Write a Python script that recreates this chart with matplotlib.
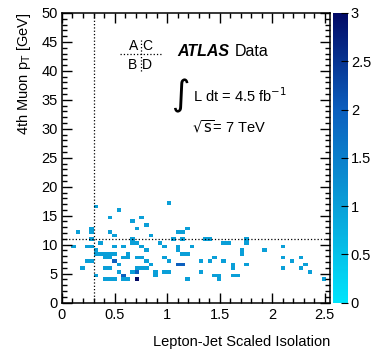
import numpy as np
import matplotlib
matplotlib.use('Agg')
import matplotlib.pyplot as plt
from matplotlib.colors import LinearSegmentedColormap
from matplotlib.ticker import MultipleLocator, FormatStrFormatter

plt.rcParams['font.family'] = ['Liberation Sans', 'DejaVu Sans']

# Histogram binning (60 x 80 bins)
x_edges = np.linspace(0, 2.6, 61)
y_edges = np.linspace(0, 50, 81)

# Filled cells: isolation, 4th muon pT [GeV], entries
iso = [0.325, 0.542, 0.455, 0.152, 0.282, 0.282, 0.455, 0.498, 0.282, 0.368,
       0.108, 0.238, 0.282, 0.498, 0.325, 0.325, 0.368, 0.412, 0.455, 0.498,
       0.412, 0.455, 0.498, 0.238, 0.282, 0.542, 0.195, 0.412, 0.455, 0.542,
       0.325, 0.412, 0.455, 0.498,
       1.018, 0.672, 0.758, 0.802, 0.715, 1.105, 1.148, 1.192, 0.845, 0.672,
       0.672, 0.715, 1.062, 1.148, 0.932, 0.585, 0.758, 0.975, 1.105, 1.105,
       0.802, 0.628, 1.148, 1.192, 0.585, 0.628, 0.715, 0.758, 0.975, 0.802,
       1.018, 0.845, 1.105, 1.148, 0.715, 0.758, 0.802, 0.672, 0.715, 0.888,
       0.975, 1.018, 0.585, 0.888, 0.585, 0.628, 0.715, 1.192,
       1.235, 1.365, 1.408, 1.755, 1.755, 1.538, 1.582, 1.712, 1.712, 1.322,
       1.408, 1.452, 1.538, 1.625, 1.625, 1.755, 1.322, 1.452, 1.495, 1.495,
       1.625, 1.668,
       1.928, 2.102, 2.102, 2.275, 2.188, 2.318, 2.102, 2.275, 2.362, 2.492]
pt = [16.56, 15.94, 14.69, 12.19, 12.81, 12.19, 12.19, 11.56, 10.94, 10.31,
      9.69, 9.69, 9.69, 9.69, 9.06, 8.44, 8.44, 8.44, 8.44, 8.44,
      7.81, 7.81, 7.19, 7.19, 7.19, 6.56, 5.94, 5.94, 5.94, 5.31,
      4.69, 4.06, 4.06, 4.06,
      17.19, 14.06, 14.69, 13.44, 12.81, 12.19, 12.19, 12.81, 11.56, 10.94,
      10.31, 10.31, 10.94, 10.94, 10.31, 9.69, 9.69, 9.69, 9.69, 9.06,
      9.06, 8.44, 8.44, 8.44, 7.81, 7.81, 7.81, 7.81, 7.81, 7.19,
      7.19, 6.56, 6.56, 6.56, 5.94, 5.94, 5.94, 5.31, 5.31, 5.31,
      5.31, 5.31, 4.69, 4.69, 4.06, 4.06, 4.06, 4.06,
      9.69, 10.94, 10.94, 10.94, 10.31, 10.31, 10.31, 9.06, 8.44, 7.19,
      7.19, 7.81, 7.19, 6.56, 5.94, 6.56, 5.31, 4.69, 4.69, 4.06,
      4.69, 4.69,
      9.06, 9.69, 7.81, 7.81, 7.19, 6.56, 5.94, 5.94, 5.31, 4.06]
entries = [1, 1, 1, 1, 1, 1, 1, 1, 1, 1,
           1, 1, 1, 1, 1, 1, 1, 1, 1, 1,
           1, 1, 2, 1, 1, 1, 1, 1, 1, 1,
           1, 1, 1, 1,
           1, 1, 1, 1, 1, 1, 1, 1, 1, 1,
           1, 1, 1, 1, 1, 1, 1, 1, 1, 1,
           1, 1, 1, 1, 1, 1, 1, 1, 1, 1,
           1, 1, 2, 2, 1, 1, 1, 1, 2, 1,
           1, 1, 2, 1, 1, 1, 3, 1,
           1, 1, 1, 1, 1, 1, 1, 1, 1, 1,
           1, 1, 1, 1, 1, 1, 1, 1, 1, 1,
           1, 1,
           1, 1, 1, 1, 1, 1, 1, 1, 1, 1]

cmap = LinearSegmentedColormap.from_list(
    'root', [(0.0, '#00e4fb'), (1/3, '#0a9fd8'), (2/3, '#0c5fbe'), (1.0, '#020a66')])

fig = plt.figure(figsize=(3.75, 3.51), dpi=100)
ax = fig.add_axes([0.1653, 0.138, 0.7147, 0.825])
h = ax.hist2d(iso, pt, bins=[x_edges, y_edges], weights=entries,
              cmap=cmap, vmin=0, vmax=3, cmin=0.5)

ax.set_xlim(0, 2.55)
ax.set_ylim(0, 50)

# region boundaries
ax.axvline(0.3, color='k', ls=':', lw=0.9)
ax.axhline(11, color='k', ls=':', lw=0.9)

ax.xaxis.set_major_locator(MultipleLocator(0.5))
ax.xaxis.set_minor_locator(MultipleLocator(0.1))
ax.yaxis.set_major_locator(MultipleLocator(5))
ax.yaxis.set_minor_locator(MultipleLocator(1))
ax.xaxis.set_major_formatter(FormatStrFormatter('%g'))
ax.tick_params(which='both', direction='in', top=True, right=True, labelsize=10.5, width=1)
ax.tick_params(which='major', length=7)
ax.tick_params(which='minor', length=3.5)
ax.tick_params(axis='x', pad=4)
ax.tick_params(axis='y', pad=3)
for s in ax.spines.values():
    s.set_linewidth(1.1)

ax.set_xlabel('Lepton-Jet Scaled Isolation', loc='right', fontsize=10.5, labelpad=9)
ax.set_ylabel(r'4th Muon p$_\mathrm{T}$ [GeV]', loc='top', fontsize=10.5, labelpad=6)

# ABCD sketch
tr = ax.transAxes
ax.text(0.267, 0.887, 'A', transform=tr, ha='center', va='center', fontsize=10)
ax.text(0.318, 0.887, 'C', transform=tr, ha='center', va='center', fontsize=10)
ax.text(0.263, 0.822, 'B', transform=tr, ha='center', va='center', fontsize=10)
ax.text(0.318, 0.822, 'D', transform=tr, ha='center', va='center', fontsize=10)
ax.plot([0.216, 0.372], [0.860, 0.860], transform=tr, color='k', ls=':', lw=0.9)
ax.plot([0.294, 0.294], [0.800, 0.912], transform=tr, color='k', ls=':', lw=0.9)

ax.text(0.43, 0.866, 'ATLAS', transform=tr, ha='left', va='center',
        fontsize=11.5, fontweight='bold', fontstyle='italic')
ax.text(0.645, 0.866, 'Data', transform=tr, ha='left', va='center', fontsize=11.5)
ax.text(0.44, 0.714, r'$\int$', transform=tr, ha='center', va='center', fontsize=18)
ax.text(0.49, 0.714, r'L dt = 4.5 fb$^{-1}$', transform=tr, ha='left', va='center', fontsize=10.5)
ax.text(0.485, 0.607, r'$\sqrt{\mathrm{s}}$= 7 TeV', transform=tr, ha='left', va='center', fontsize=10.5)

# colour scale
cax = fig.add_axes([0.888, 0.138, 0.04, 0.825])
cb = fig.colorbar(h[3], cax=cax)
cb.set_ticks(np.arange(0, 3.01, 0.5))
cb.ax.yaxis.set_major_formatter(FormatStrFormatter('%g'))
cb.ax.tick_params(direction='in', length=5, labelsize=10.5, pad=2)
cb.outline.set_visible(False)

fig.savefig('out.png', dpi=100)
